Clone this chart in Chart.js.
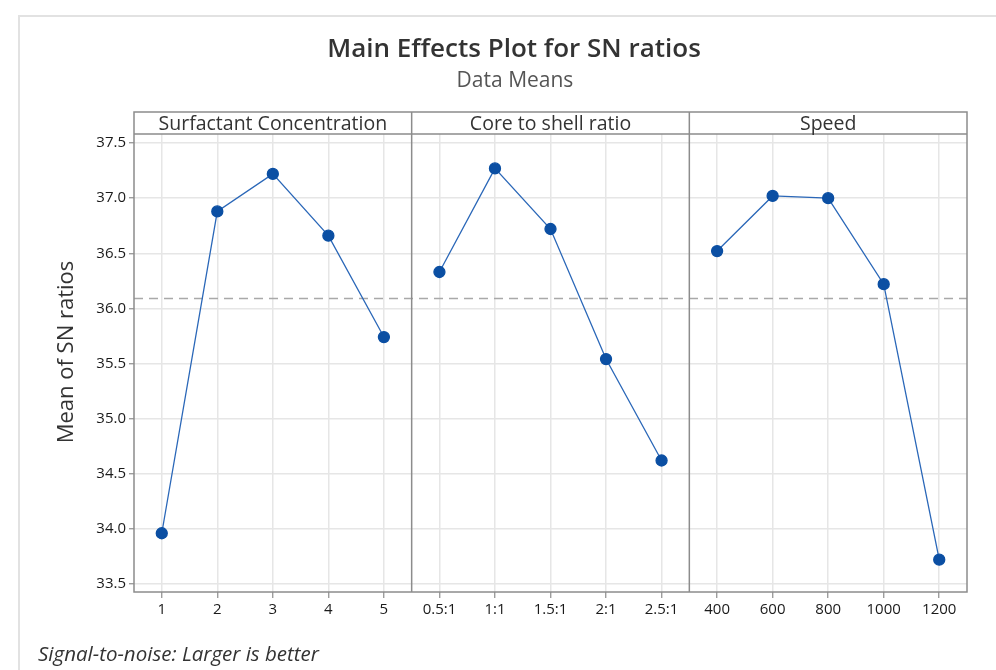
<!DOCTYPE html>
<html>
<head>
<meta charset="utf-8">
<script src="https://cdn.jsdelivr.net/npm/chart.js@4.4.1/dist/chart.umd.min.js"></script>
<style>
  html, body { margin: 0; padding: 0; background: #fff; }
  #wrap { width: 996px; height: 670px; position: relative; }
</style>
</head>
<body>
<div id="wrap"><canvas id="plot"></canvas></div>
<script>
// values
const panelTitles = ['Surfactant Concentration', 'Core to shell ratio', 'Speed'];
const surfactantLevels = ['1', '2', '3', '4', '5'];
const coreShellLevels = ['0.5:1', '1:1', '1.5:1', '2:1', '2.5:1'];
const speedLevels = ['400', '600', '800', '1000', '1200'];
const surfactantMeans = [33.96, 36.88, 37.22, 36.66, 35.74];
const coreShellMeans = [36.33, 37.27, 36.72, 35.54, 34.62];
const speedMeans = [36.52, 37.02, 37.00, 36.22, 33.72];
const overallMean = 36.09;
const yTicks = [33.5, 34.0, 34.5, 35.0, 35.5, 36.0, 36.5, 37.0, 37.5];

const font = "'Open Sans', 'Noto Sans', sans-serif";
const levels = surfactantLevels.concat(coreShellLevels, speedLevels);
const panels = [surfactantMeans, coreShellMeans, speedMeans];

// each panel gets 5 slots on one shared x scale
function panelData(p) {
    return panels[p].map((v, i) => ({ x: p * 5 + i, y: v }));
}

let datasets = [];
for (var p = 0; p < panels.length; p++) {
    datasets.push({
        data: panelData(p),
        borderColor: '#2a67b8',
        borderWidth: 1.3,
        pointBackgroundColor: '#0b4fa3',
        pointBorderColor: '#0b4fa3',
        pointRadius: 5.5,
        pointHoverRadius: 5.5,
        tension: 0
    });
}
// reference line at the overall mean
datasets.push({
    data: [{ x: -0.5, y: overallMean }, { x: 14.5, y: overallMean }],
    borderColor: '#a9a9a9',
    borderWidth: 1.5,
    borderDash: [9, 6],
    pointRadius: 0
});

const framePlugin = {
    id: 'frame',
    beforeDraw(chart) {
        const ctx = chart.ctx;
        ctx.save();
        ctx.fillStyle = '#fff';
        ctx.fillRect(0, 0, chart.width, chart.height);
        // outer light border
        ctx.strokeStyle = '#e2e2e2';
        ctx.lineWidth = 2;
        ctx.beginPath();
        ctx.moveTo(19, 670);
        ctx.lineTo(19, 16);
        ctx.lineTo(996, 16);
        ctx.stroke();
        ctx.restore();
    },
    afterDatasetsDraw(chart) {
        const ctx = chart.ctx;
        const a = chart.chartArea;
        const xs = chart.scales.x;
        const headTop = a.top - 22;
        ctx.save();
        ctx.strokeStyle = '#8c8c8c';
        ctx.lineWidth = 1.5;
        ctx.strokeRect(a.left, headTop, a.right - a.left, a.bottom - headTop);
        ctx.beginPath();
        ctx.moveTo(a.left, a.top);
        ctx.lineTo(a.right, a.top);
        [4.5, 9.5].forEach(v => {
            const px = xs.getPixelForValue(v);
            ctx.moveTo(px, headTop);
            ctx.lineTo(px, a.bottom);
        });
        ctx.stroke();

        // panel headers
        ctx.fillStyle = '#333';
        ctx.font = '19.5px ' + font;
        ctx.textAlign = 'center';
        ctx.textBaseline = 'middle';
        for (var i = 0; i < panelTitles.length; i++) {
            const l = xs.getPixelForValue(i * 5 - 0.5);
            const r = xs.getPixelForValue(i * 5 + 4.5);
            ctx.fillText(panelTitles[i], (l + r) / 2, headTop + 12);
        }

        // titles
        ctx.fillStyle = '#333';
        ctx.font = '600 26px ' + font;
        ctx.fillText('Main Effects Plot for SN ratios', 514, 50);
        ctx.fillStyle = '#555';
        ctx.font = '21px ' + font;
        ctx.fillText('Data Means', 515, 81);

        // y axis title
        ctx.save();
        ctx.translate(67, (headTop + a.bottom) / 2);
        ctx.rotate(-Math.PI / 2);
        ctx.fillStyle = '#333';
        ctx.font = '22px ' + font;
        ctx.fillText('Mean of SN ratios', 0, 0);
        ctx.restore();

        // footnote
        ctx.textAlign = 'left';
        ctx.fillStyle = '#333';
        ctx.font = 'italic 20.5px ' + font;
        ctx.fillText('Signal-to-noise: Larger is better', 38, 655);
        ctx.restore();
    }
};

new Chart(document.getElementById('plot'), {
    type: 'line',
    data: { datasets: datasets },
    options: {
        responsive: true,
        maintainAspectRatio: false,
        animation: false,
        layout: { padding: { top: 134, right: 29, bottom: 38, left: 0 } },
        plugins: {
            legend: { display: false },
            tooltip: { enabled: false }
        },
        scales: {
            x: {
                type: 'linear',
                min: -0.5,
                max: 14.5,
                afterBuildTicks: s => {
                    s.ticks = levels.map((l, i) => ({ value: i }));
                },
                afterFit: s => { s.height = 40; },
                ticks: {
                    autoSkip: false,
                    maxRotation: 0,
                    padding: 3,
                    color: '#1a1a1a',
                    font: { family: font, size: 15 },
                    callback: v => levels[v]
                },
                grid: { color: '#e6e6e6', lineWidth: 1.5, tickLength: 6, tickColor: '#8c8c8c', tickWidth: 1.2 },
                border: { display: false }
            },
            y: {
                min: 33.427,
                max: 37.582,
                afterBuildTicks: s => {
                    s.ticks = yTicks.map(v => ({ value: v }));
                },
                afterFit: s => { s.width = 134; },
                ticks: {
                    padding: 3,
                    color: '#1a1a1a',
                    font: { family: font, size: 15 },
                    callback: v => v.toFixed(1)
                },
                grid: { color: '#e6e6e6', lineWidth: 1.5, tickLength: 5, tickColor: '#8c8c8c', tickWidth: 1.2 },
                border: { display: false }
            }
        }
    },
    plugins: [framePlugin]
});
</script>
</body>
</html>
